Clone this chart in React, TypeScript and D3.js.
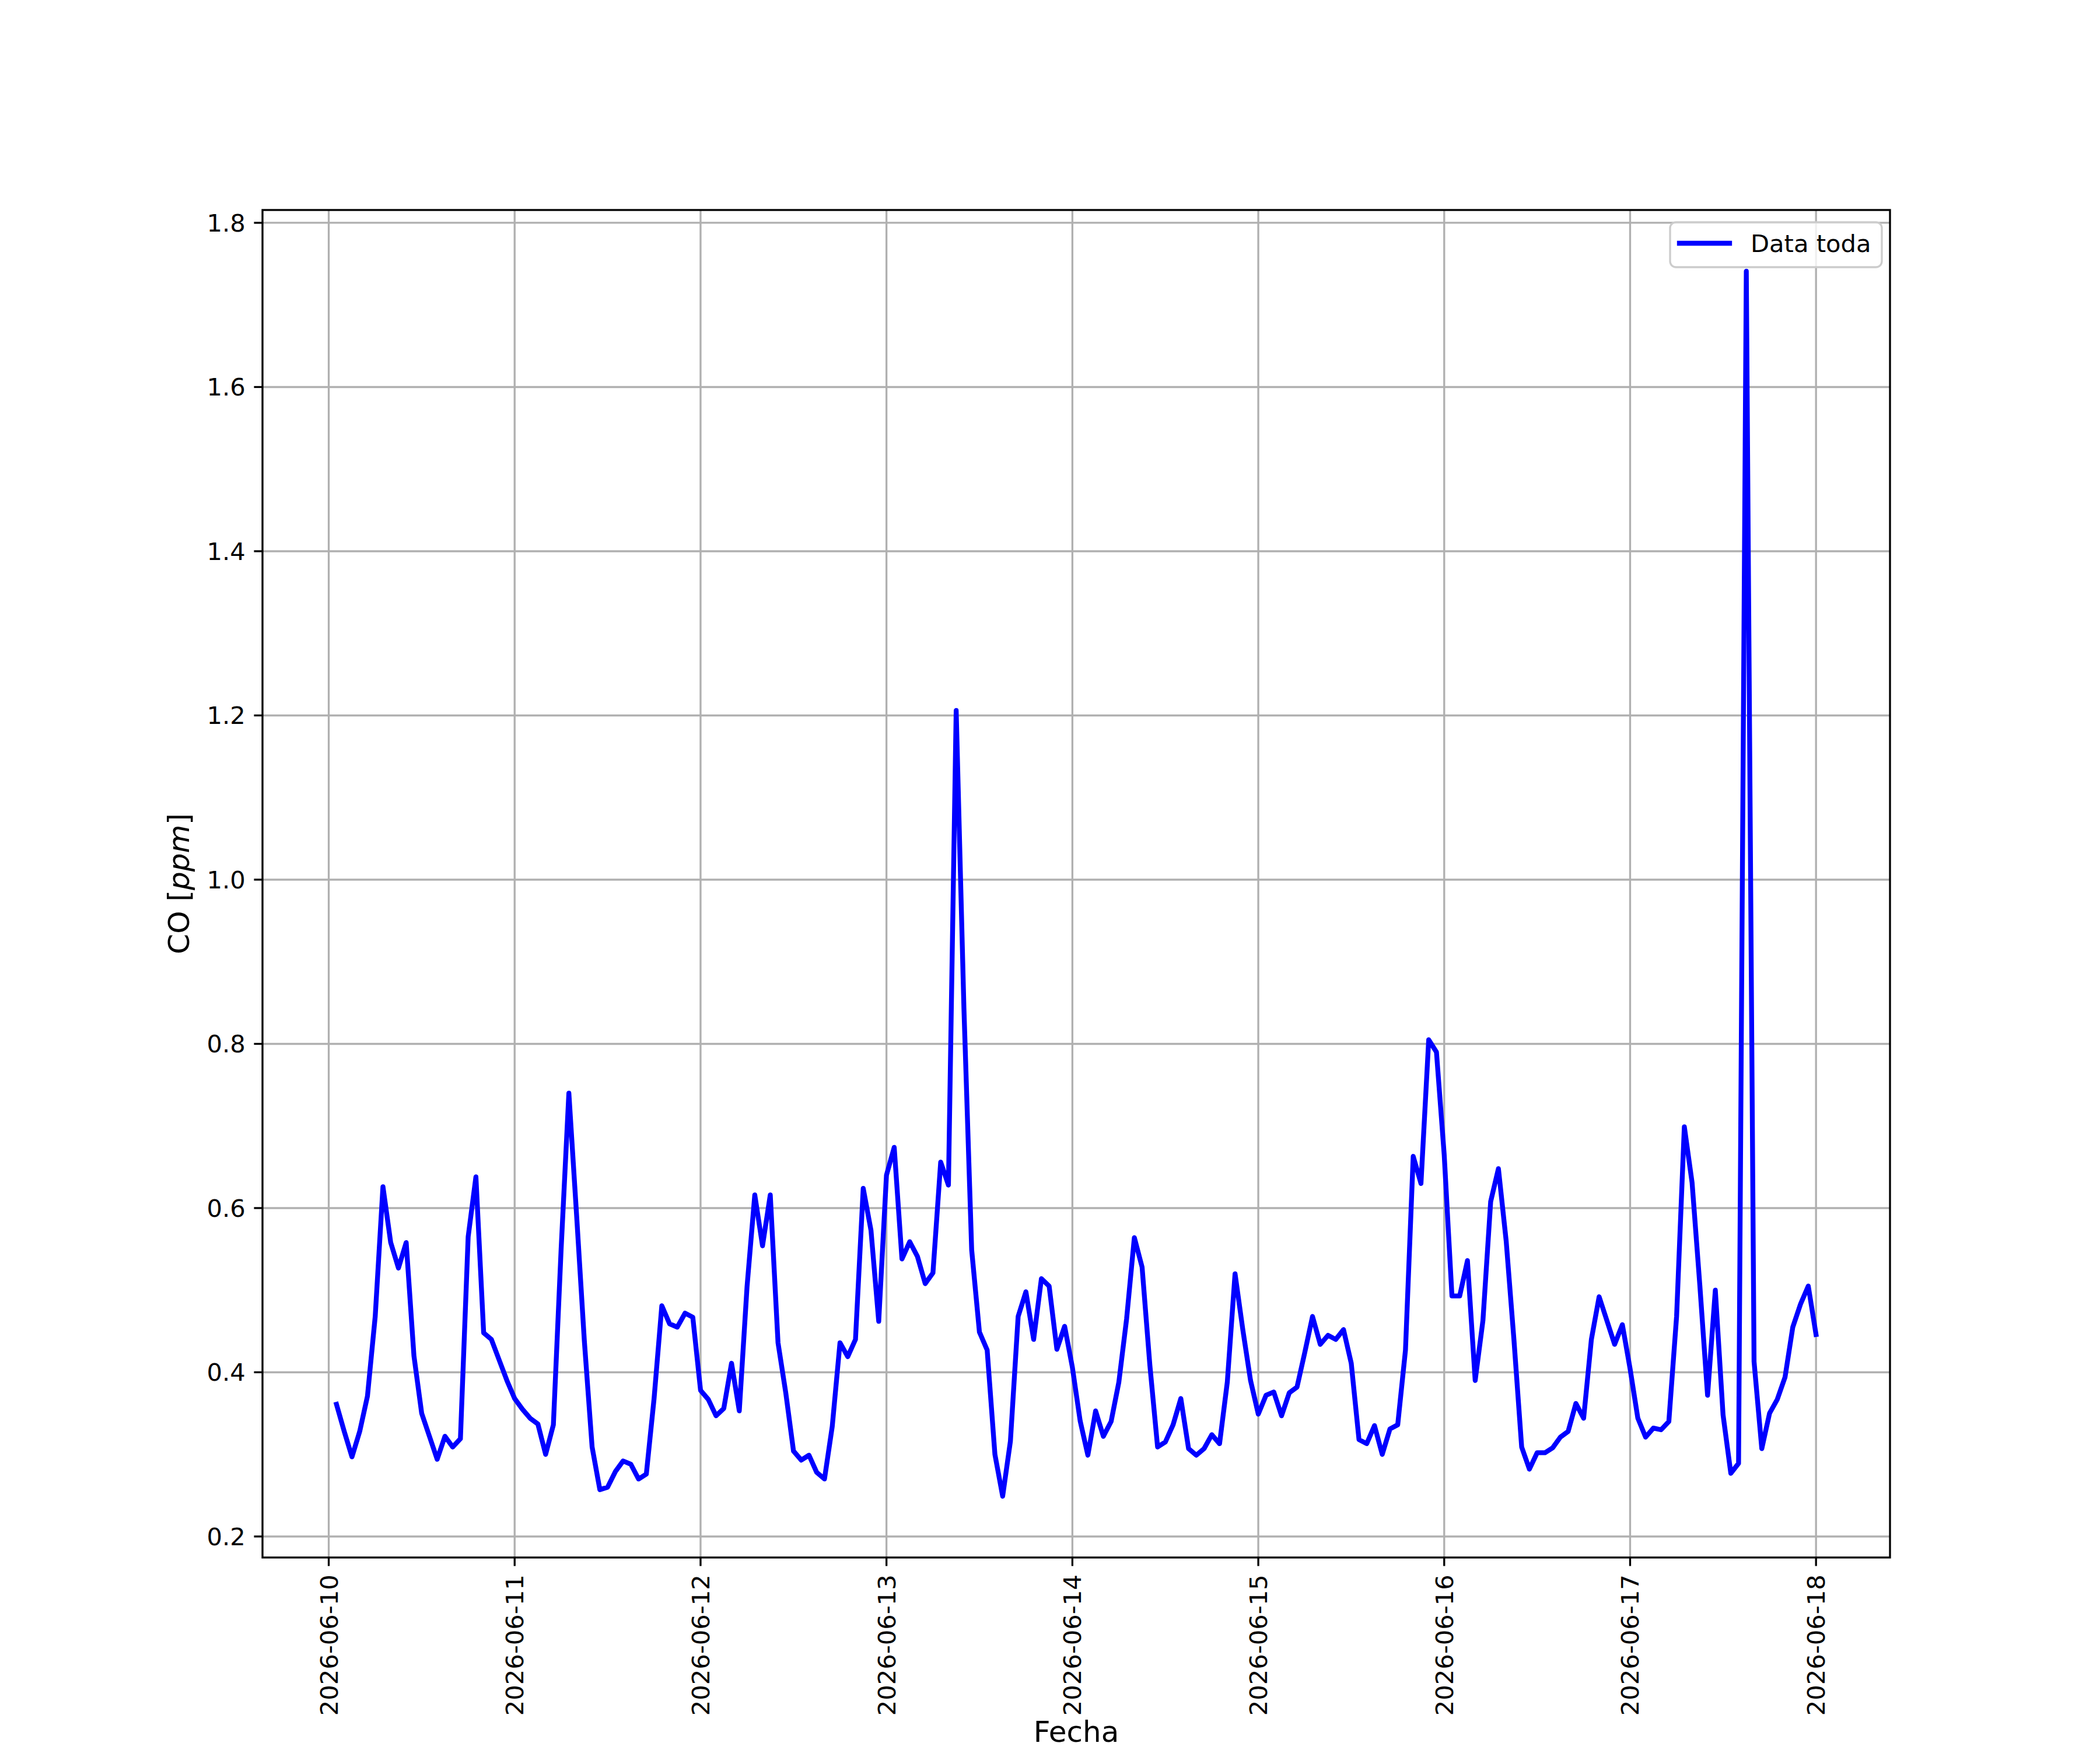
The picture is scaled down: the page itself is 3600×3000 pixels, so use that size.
import * as d3 from 'd3'
import React from 'react'

// hourly CO readings, 2026-06-10 01:00 .. 2026-06-18 00:00
const startDay = new Date(2026, 5, 10)
const firstHour = 1
const coValues = [
  0.361, 0.328, 0.297, 0.328, 0.371, 0.468, 0.626, 0.558, 0.527, 0.558, 0.42, 0.35, 0.322, 0.294, 0.322, 0.309,
  0.319, 0.565, 0.638, 0.448, 0.44, 0.415, 0.39,
  // 06-11
  0.368, 0.355, 0.344, 0.337, 0.3, 0.336, 0.55, 0.74, 0.591, 0.438, 0.309, 0.257, 0.26, 0.279, 0.292, 0.288,
  0.27, 0.276, 0.368, 0.481, 0.459, 0.455, 0.472, 0.467,
  // 06-12
  0.378, 0.367, 0.347, 0.356, 0.411, 0.353, 0.504, 0.616, 0.554, 0.616, 0.436, 0.375, 0.304, 0.293, 0.299, 0.278,
  0.27, 0.334, 0.436, 0.419, 0.44, 0.624, 0.573, 0.462,
  // 06-13
  0.64, 0.674, 0.538, 0.559, 0.541, 0.508, 0.521, 0.656, 0.628, 1.206, 0.843, 0.549, 0.449, 0.427, 0.3, 0.249,
  0.316, 0.468, 0.498, 0.44, 0.514, 0.505, 0.428, 0.456,
  // 06-14
  0.406, 0.341, 0.299, 0.353, 0.322, 0.34, 0.388, 0.465, 0.564, 0.528, 0.409, 0.309, 0.315, 0.336, 0.368, 0.307,
  0.299, 0.307, 0.324, 0.313, 0.388, 0.52, 0.452, 0.39,
  // 06-15
  0.349, 0.372, 0.376, 0.347, 0.375, 0.382, 0.424, 0.468, 0.434, 0.445, 0.44, 0.452, 0.411, 0.318, 0.313, 0.335,
  0.3, 0.331, 0.336, 0.427, 0.663, 0.63, 0.805, 0.79,
  // 06-16
  0.665, 0.493, 0.493, 0.536, 0.39, 0.463, 0.608, 0.648, 0.56, 0.44, 0.309, 0.282, 0.302, 0.302, 0.308, 0.321,
  0.328, 0.362, 0.344, 0.44, 0.492, 0.463, 0.434, 0.458,
  // 06-17
  0.404, 0.344, 0.321, 0.332, 0.33, 0.34, 0.468, 0.699, 0.631, 0.506, 0.372, 0.5, 0.348, 0.277, 0.289, 1.741,
  0.413, 0.307, 0.35, 0.367, 0.394, 0.455, 0.483, 0.505,
  // 06-18
  0.446,
]
const yTicks = [0.2, 0.4, 0.6, 0.8, 1.0, 1.2, 1.4, 1.6, 1.8]
const seriesLabel = 'Data toda'
const xLabel = 'Fecha'

const W = 3600
const H = 3000
const margin = { left: 450, right: 360, top: 360, bottom: 330 }
const pt = 300 / 72
const font = '"DejaVu Sans", sans-serif'

const App = () => {
  const data = coValues.map((v, i) => ({ t: d3.timeHour.offset(startDay, firstHour + i), v }))

  const x0 = margin.left
  const x1 = W - margin.right
  const y0 = margin.top
  const y1 = H - margin.bottom

  // matplotlib style 5% padding
  const [tMin, tMax] = d3.extent(data, (d) => +d.t) as [number, number]
  const tPad = (tMax - tMin) * 0.05
  const xScale = d3.scaleTime().domain([new Date(tMin - tPad), new Date(tMax + tPad)]).range([x0, x1])

  const [vMin, vMax] = d3.extent(data, (d) => d.v) as [number, number]
  const vPad = (vMax - vMin) * 0.05
  const yScale = d3.scaleLinear().domain([vMin - vPad, vMax + vPad]).range([y1, y0])

  const xTicks = d3.timeDay.range(d3.timeDay.ceil(xScale.domain()[0]), xScale.domain()[1])
  const fmt = d3.timeFormat('%Y-%m-%d')

  const line = d3
    .line<{ t: Date; v: number }>()
    .x((d) => xScale(d.t))
    .y((d) => yScale(d.v))

  const tickLen = 3.5 * pt
  const tickPad = 3.5 * pt
  const lw = 0.8 * pt
  const fs = 10 * pt

  return (
    <svg width={W} height={H} style={{ position: 'absolute', left: 0, top: 0, background: '#fff' }} fontFamily={font}>
      <rect x={0} y={0} width={W} height={H} fill="#fff" />

      {/* grid */}
      <g stroke="#b0b0b0" strokeWidth={lw}>
        {xTicks.map((t) => (
          <line key={+t} x1={xScale(t)} x2={xScale(t)} y1={y0} y2={y1} />
        ))}
        {yTicks.map((v) => (
          <line key={v} x1={x0} x2={x1} y1={yScale(v)} y2={yScale(v)} />
        ))}
      </g>

      <path
        d={line(data) || ''}
        fill="none"
        stroke="#0000ff"
        strokeWidth={2 * pt}
        strokeLinejoin="round"
        strokeLinecap="square"
      />

      {/* spines */}
      <rect x={x0} y={y0} width={x1 - x0} height={y1 - y0} fill="none" stroke="#000" strokeWidth={lw} />

      {/* x axis */}
      <g>
        {xTicks.map((t) => {
          const x = xScale(t)
          const ty = y1 + tickLen + tickPad
          return (
            <g key={+t}>
              <line x1={x} x2={x} y1={y1} y2={y1 + tickLen} stroke="#000" strokeWidth={lw} />
              <text
                transform={`translate(${x},${ty}) rotate(-90)`}
                textAnchor="end"
                dy="0.36em"
                fontSize={fs}
                fill="#000"
              >
                {fmt(t)}
              </text>
            </g>
          )
        })}
        <text x={(x0 + x1) / 2} y={2986} textAnchor="middle" fontSize={12 * pt} fill="#000">
          {xLabel}
        </text>
      </g>

      {/* y axis */}
      <g>
        {yTicks.map((v) => {
          const y = yScale(v)
          return (
            <g key={v}>
              <line x1={x0 - tickLen} x2={x0} y1={y} y2={y} stroke="#000" strokeWidth={lw} />
              <text x={x0 - tickLen - tickPad} y={y} dy="0.36em" textAnchor="end" fontSize={fs} fill="#000">
                {v.toFixed(1)}
              </text>
            </g>
          )
        })}
        <text
          transform={`translate(324,${(y0 + y1) / 2}) rotate(-90)`}
          textAnchor="middle"
          fontSize={12 * pt}
          fill="#000"
        >
          CO [<tspan fontStyle="italic">ppm</tspan>]
        </text>
      </g>

      {/* legend */}
      <g>
        <rect
          x={2863}
          y={381}
          width={363}
          height={77}
          rx={10}
          ry={10}
          fill="#fff"
          fillOpacity={0.8}
          stroke="#cccccc"
          strokeWidth={lw}
        />
        <line x1={2879} x2={2965} y1={417} y2={417} stroke="#0000ff" strokeWidth={2 * pt} strokeLinecap="square" />
        <text x={3001} y={432} fontSize={fs} fill="#000">
          {seriesLabel}
        </text>
      </g>
    </svg>
  )
}

export default App
